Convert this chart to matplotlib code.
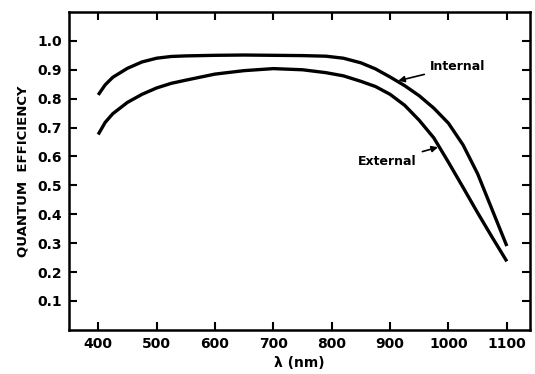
import matplotlib.pyplot as plt

# Wavelength (nm) and quantum efficiency
wl_internal = [400, 412, 425, 450, 475, 500, 525, 550, 600, 650, 700, 750, 790, 820,
               850, 875, 900, 925, 950, 975, 1000, 1025, 1050, 1075, 1100]
qe_internal = [0.813, 0.848, 0.874, 0.905, 0.927, 0.940, 0.946, 0.948, 0.950, 0.951,
               0.950, 0.949, 0.947, 0.940, 0.924, 0.903, 0.875, 0.845, 0.810, 0.767,
               0.715, 0.640, 0.540, 0.415, 0.290]

wl_external = [400, 412, 425, 450, 475, 500, 525, 550, 600, 650, 700, 750, 790, 820,
               850, 875, 900, 925, 950, 975, 1000, 1025, 1050, 1075, 1100]
qe_external = [0.676, 0.718, 0.748, 0.787, 0.815, 0.837, 0.853, 0.864, 0.885, 0.897,
               0.904, 0.900, 0.890, 0.879, 0.860, 0.842, 0.815, 0.777, 0.725, 0.664,
               0.580, 0.493, 0.405, 0.320, 0.237]

x_ticks = [400, 500, 600, 700, 800, 900, 1000, 1100]
y_ticks = [0.1, 0.2, 0.3, 0.4, 0.5, 0.6, 0.7, 0.8, 0.9, 1.0]

fig = plt.figure(figsize=(5.35, 3.74), dpi=100)
ax = fig.add_axes([0.129, 0.118, 0.862, 0.850])

for wl, qe in [(wl_internal, qe_internal), (wl_external, qe_external)]:
    ax.plot(wl, qe, color='black', lw=2.4, solid_capstyle='butt', solid_joinstyle='round')

ax.set_xlim(350, 1140)
ax.set_ylim(0, 1.1)
ax.set_xticks(x_ticks)
ax.set_yticks(y_ticks)
ax.set_xticklabels([str(t) for t in x_ticks], fontweight='bold', fontsize=10)
ax.set_yticklabels([f'{t:.1f}' for t in y_ticks], fontweight='bold', fontsize=10)
ax.tick_params(direction='in', length=6, width=1.5, top=True, right=True, pad=5)

for s in ax.spines.values():
    s.set_linewidth(1.8)

ax.set_xlabel('λ (nm)', fontweight='bold', fontsize=10, labelpad=4)
ax.set_ylabel('QUANTUM  EFFICIENCY', fontweight='bold', fontsize=9.5, labelpad=6)

# callouts
ax.annotate('Internal', xy=(914, 0.862), xytext=(968, 0.912),
            fontsize=9, fontweight='bold', va='center', ha='left',
            arrowprops=dict(arrowstyle='-|>', color='black', lw=1.2, shrinkA=2, shrinkB=0))
ax.annotate('External', xy=(982, 0.632), xytext=(946, 0.583),
            fontsize=9, fontweight='bold', va='center', ha='right',
            arrowprops=dict(arrowstyle='-|>', color='black', lw=1.2, shrinkA=2, shrinkB=0))

plt.savefig('out.png', dpi=100)
